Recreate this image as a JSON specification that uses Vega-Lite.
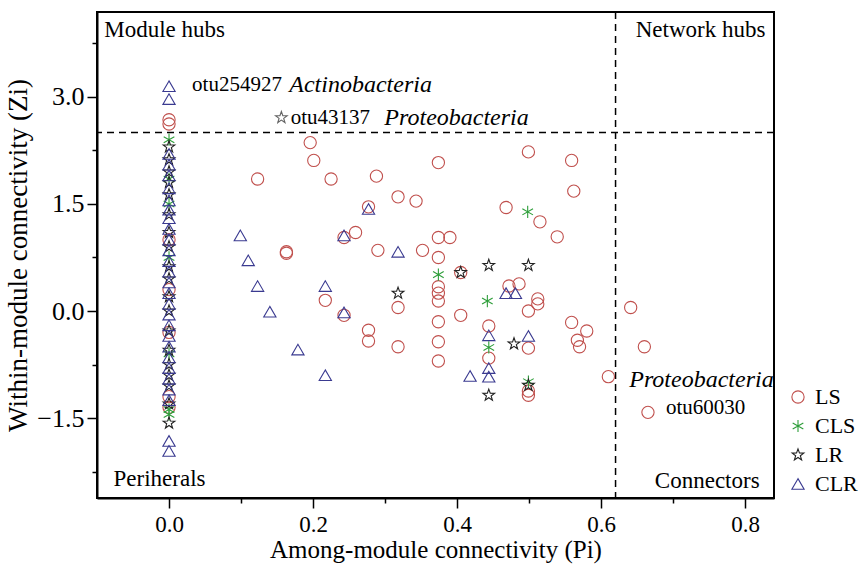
{
  "$schema": "https://vega.github.io/schema/vega-lite/v6.json",
  "width": 677,
  "height": 486,
  "autosize": {"type": "none"},
  "padding": {"left": 97, "top": 12, "right": 86, "bottom": 67},
  "background": "white",
  "config": {
    "font": "Times New Roman, Liberation Serif, serif",
    "view": {"stroke": "black", "strokeWidth": 2},
    "axis": {"grid": false, "domainColor": "black", "domainWidth": 2, "tickColor": "black", "tickWidth": 1.5,
             "labelFont": "Times New Roman, Liberation Serif, serif", "labelColor": "black",
             "titleFont": "Times New Roman, Liberation Serif, serif", "titleFontWeight": "normal", "titleColor": "black"}
  },
  "datasets": {
    "nodes": [
      {"group": "LS", "Pi": 0, "Zi": 2.68}, {"group": "LS", "Pi": 0, "Zi": 2.62}, {"group": "LS", "Pi": 0, "Zi": 1.0},
      {"group": "LS", "Pi": 0, "Zi": 0.3}, {"group": "LS", "Pi": 0, "Zi": -0.3}, {"group": "LS", "Pi": 0, "Zi": -1.2},
      {"group": "LS", "Pi": 0, "Zi": -1.35},
      {"group": "LS", "Pi": 0.196, "Zi": 2.36}, {"group": "LS", "Pi": 0.201, "Zi": 2.11}, {"group": "LS", "Pi": 0.123, "Zi": 1.85},
      {"group": "LS", "Pi": 0.225, "Zi": 1.85}, {"group": "LS", "Pi": 0.288, "Zi": 1.89}, {"group": "LS", "Pi": 0.318, "Zi": 1.6},
      {"group": "LS", "Pi": 0.343, "Zi": 1.54}, {"group": "LS", "Pi": 0.277, "Zi": 1.46}, {"group": "LS", "Pi": 0.243, "Zi": 1.03},
      {"group": "LS", "Pi": 0.259, "Zi": 1.1}, {"group": "LS", "Pi": 0.163, "Zi": 0.83}, {"group": "LS", "Pi": 0.163, "Zi": 0.81},
      {"group": "LS", "Pi": 0.29, "Zi": 0.85}, {"group": "LS", "Pi": 0.352, "Zi": 0.85}, {"group": "LS", "Pi": 0.217, "Zi": 0.15},
      {"group": "LS", "Pi": 0.318, "Zi": 0.05}, {"group": "LS", "Pi": 0.243, "Zi": -0.06}, {"group": "LS", "Pi": 0.277, "Zi": -0.27},
      {"group": "LS", "Pi": 0.277, "Zi": -0.42}, {"group": "LS", "Pi": 0.318, "Zi": -0.5},
      {"group": "LS", "Pi": 0.374, "Zi": 2.08}, {"group": "LS", "Pi": 0.499, "Zi": 2.23}, {"group": "LS", "Pi": 0.559, "Zi": 2.11},
      {"group": "LS", "Pi": 0.562, "Zi": 1.68}, {"group": "LS", "Pi": 0.468, "Zi": 1.45}, {"group": "LS", "Pi": 0.515, "Zi": 1.25},
      {"group": "LS", "Pi": 0.539, "Zi": 1.04}, {"group": "LS", "Pi": 0.374, "Zi": 1.03}, {"group": "LS", "Pi": 0.39, "Zi": 1.03},
      {"group": "LS", "Pi": 0.374, "Zi": 0.75}, {"group": "LS", "Pi": 0.405, "Zi": 0.54}, {"group": "LS", "Pi": 0.374, "Zi": 0.34},
      {"group": "LS", "Pi": 0.374, "Zi": 0.25}, {"group": "LS", "Pi": 0.374, "Zi": 0.14}, {"group": "LS", "Pi": 0.472, "Zi": 0.35},
      {"group": "LS", "Pi": 0.486, "Zi": 0.38}, {"group": "LS", "Pi": 0.512, "Zi": 0.17}, {"group": "LS", "Pi": 0.512, "Zi": 0.1},
      {"group": "LS", "Pi": 0.499, "Zi": 0.0}, {"group": "LS", "Pi": 0.405, "Zi": -0.06}, {"group": "LS", "Pi": 0.374, "Zi": -0.15},
      {"group": "LS", "Pi": 0.374, "Zi": -0.43}, {"group": "LS", "Pi": 0.374, "Zi": -0.7}, {"group": "LS", "Pi": 0.444, "Zi": -0.21},
      {"group": "LS", "Pi": 0.444, "Zi": -0.66}, {"group": "LS", "Pi": 0.499, "Zi": -0.52}, {"group": "LS", "Pi": 0.499, "Zi": -1.12},
      {"group": "LS", "Pi": 0.499, "Zi": -1.18}, {"group": "LS", "Pi": 0.559, "Zi": -0.16}, {"group": "LS", "Pi": 0.58, "Zi": -0.28},
      {"group": "LS", "Pi": 0.567, "Zi": -0.41}, {"group": "LS", "Pi": 0.57, "Zi": -0.5}, {"group": "LS", "Pi": 0.61, "Zi": -0.92},
      {"group": "LS", "Pi": 0.641, "Zi": 0.05}, {"group": "LS", "Pi": 0.66, "Zi": -0.5}, {"group": "LS", "Pi": 0.665, "Zi": -1.42},
      {"group": "CLS", "Pi": 0, "Zi": 2.4}, {"group": "CLS", "Pi": 0, "Zi": 1.85}, {"group": "CLS", "Pi": 0, "Zi": 1.5},
      {"group": "CLS", "Pi": 0, "Zi": 0.75}, {"group": "CLS", "Pi": 0, "Zi": -0.6}, {"group": "CLS", "Pi": 0, "Zi": -1.38},
      {"group": "CLS", "Pi": 0, "Zi": -1.45},
      {"group": "CLS", "Pi": 0.498, "Zi": 1.39}, {"group": "CLS", "Pi": 0.374, "Zi": 0.51}, {"group": "CLS", "Pi": 0.442, "Zi": 0.14},
      {"group": "CLS", "Pi": 0.444, "Zi": -0.51}, {"group": "CLS", "Pi": 0.499, "Zi": -0.99},
      {"group": "LR", "Pi": 0, "Zi": 2.3}, {"group": "LR", "Pi": 0, "Zi": 2.12}, {"group": "LR", "Pi": 0, "Zi": 1.95},
      {"group": "LR", "Pi": 0, "Zi": 1.8}, {"group": "LR", "Pi": 0, "Zi": 1.63}, {"group": "LR", "Pi": 0, "Zi": 1.35},
      {"group": "LR", "Pi": 0, "Zi": 1.1}, {"group": "LR", "Pi": 0, "Zi": 0.9}, {"group": "LR", "Pi": 0, "Zi": 0.62},
      {"group": "LR", "Pi": 0, "Zi": 0.45}, {"group": "LR", "Pi": 0, "Zi": 0.2}, {"group": "LR", "Pi": 0, "Zi": 0.0},
      {"group": "LR", "Pi": 0, "Zi": -0.28}, {"group": "LR", "Pi": 0, "Zi": -0.55}, {"group": "LR", "Pi": 0, "Zi": -0.75},
      {"group": "LR", "Pi": 0, "Zi": -0.9}, {"group": "LR", "Pi": 0, "Zi": -1.05}, {"group": "LR", "Pi": 0, "Zi": -1.3},
      {"group": "LR", "Pi": 0, "Zi": -1.57},
      {"group": "LR", "Pi": 0.318, "Zi": 0.25}, {"group": "LR", "Pi": 0.405, "Zi": 0.54}, {"group": "LR", "Pi": 0.444, "Zi": 0.64},
      {"group": "LR", "Pi": 0.499, "Zi": 0.64}, {"group": "LR", "Pi": 0.479, "Zi": -0.46}, {"group": "LR", "Pi": 0.444, "Zi": -1.18},
      {"group": "LR", "Pi": 0.499, "Zi": -1.04},
      {"group": "CLR", "Pi": 0, "Zi": 3.15}, {"group": "CLR", "Pi": 0, "Zi": 2.97}, {"group": "CLR", "Pi": 0, "Zi": 2.2},
      {"group": "CLR", "Pi": 0, "Zi": 2.05}, {"group": "CLR", "Pi": 0, "Zi": 1.9}, {"group": "CLR", "Pi": 0, "Zi": 1.72},
      {"group": "CLR", "Pi": 0, "Zi": 1.55}, {"group": "CLR", "Pi": 0, "Zi": 1.42}, {"group": "CLR", "Pi": 0, "Zi": 1.3},
      {"group": "CLR", "Pi": 0, "Zi": 1.15}, {"group": "CLR", "Pi": 0, "Zi": 1.0}, {"group": "CLR", "Pi": 0, "Zi": 0.85},
      {"group": "CLR", "Pi": 0, "Zi": 0.7}, {"group": "CLR", "Pi": 0, "Zi": 0.55}, {"group": "CLR", "Pi": 0, "Zi": 0.4},
      {"group": "CLR", "Pi": 0, "Zi": 0.25}, {"group": "CLR", "Pi": 0, "Zi": 0.1}, {"group": "CLR", "Pi": 0, "Zi": -0.05},
      {"group": "CLR", "Pi": 0, "Zi": -0.2}, {"group": "CLR", "Pi": 0, "Zi": -0.35}, {"group": "CLR", "Pi": 0, "Zi": -0.5},
      {"group": "CLR", "Pi": 0, "Zi": -0.65}, {"group": "CLR", "Pi": 0, "Zi": -0.8}, {"group": "CLR", "Pi": 0, "Zi": -0.95},
      {"group": "CLR", "Pi": 0, "Zi": -1.1}, {"group": "CLR", "Pi": 0, "Zi": -1.25}, {"group": "CLR", "Pi": 0, "Zi": -1.82},
      {"group": "CLR", "Pi": 0, "Zi": -1.96},
      {"group": "CLR", "Pi": 0.277, "Zi": 1.43}, {"group": "CLR", "Pi": 0.099, "Zi": 1.06}, {"group": "CLR", "Pi": 0.243, "Zi": 1.06},
      {"group": "CLR", "Pi": 0.318, "Zi": 0.83}, {"group": "CLR", "Pi": 0.11, "Zi": 0.71}, {"group": "CLR", "Pi": 0.123, "Zi": 0.35},
      {"group": "CLR", "Pi": 0.217, "Zi": 0.35}, {"group": "CLR", "Pi": 0.14, "Zi": -0.01}, {"group": "CLR", "Pi": 0.243, "Zi": -0.02},
      {"group": "CLR", "Pi": 0.179, "Zi": -0.54}, {"group": "CLR", "Pi": 0.217, "Zi": -0.9}, {"group": "CLR", "Pi": 0.468, "Zi": 0.25},
      {"group": "CLR", "Pi": 0.481, "Zi": 0.25}, {"group": "CLR", "Pi": 0.444, "Zi": -0.34}, {"group": "CLR", "Pi": 0.444, "Zi": -0.8},
      {"group": "CLR", "Pi": 0.444, "Zi": -0.92}, {"group": "CLR", "Pi": 0.418, "Zi": -0.91}, {"group": "CLR", "Pi": 0.499, "Zi": -0.35}
    ],
    "hline": [{"Zi": 2.5}],
    "vline": [{"Pi": 0.62}],
    "quadLeft": [
      {"Pi": -0.09, "Zi": 3.94, "label": "Module hubs"},
      {"Pi": -0.077, "Zi": -2.36, "label": "Periherals"}
    ],
    "quadRight": [
      {"Pi": 0.828, "Zi": 3.94, "label": "Network hubs"},
      {"Pi": 0.82, "Zi": -2.38, "label": "Connectors"}
    ],
    "otuLabels": [
      {"Pi": 0.032, "Zi": 3.17, "label": "otu254927"},
      {"Pi": 0.169, "Zi": 2.71, "label": "otu43137"},
      {"Pi": 0.69, "Zi": -1.36, "label": "otu60030"}
    ],
    "taxonLabels": [
      {"Pi": 0.167, "Zi": 3.17, "label": "Actinobacteria"},
      {"Pi": 0.299, "Zi": 2.71, "label": "Proteobacteria"},
      {"Pi": 0.639, "Zi": -0.97, "label": "Proteobacteria"}
    ],
    "annoStar": [{"Pi": 0.156, "Zi": 2.71}]
  },
  "encoding": {
    "x": {"field": "Pi", "type": "quantitative",
          "scale": {"domain": [-0.1, 0.84], "nice": false, "zero": false},
          "axis": {"title": "Among-module connectivity (Pi)", "values": [0, 0.1, 0.2, 0.3, 0.4, 0.5, 0.6, 0.7, 0.8],
                   "labelExpr": "indexof([0,0.2,0.4,0.6,0.8], datum.value) >= 0 ? format(datum.value, '.1f') : ''",
                   "tickSize": {"condition": {"test": "indexof([0,0.2,0.4,0.6,0.8], datum.value) >= 0", "value": 10}, "value": 5},
                   "labelFontSize": 23, "titleFontSize": 25,
                   "labelPadding": 5, "titlePadding": 1, "labelFlush": false, "labelOverlap": false}},
    "y": {"field": "Zi", "type": "quantitative",
          "scale": {"domain": [-2.62, 4.19], "nice": false, "zero": false},
          "axis": {"title": "Within-module connectivity (Zi)", "values": [-2.25, -1.5, -0.75, 0, 0.75, 1.5, 2.25, 3, 3.75],
                   "labelExpr": "indexof([-1.5,0,1.5,3], datum.value) >= 0 ? format(datum.value, '.1f') : ''",
                   "tickSize": {"condition": {"test": "indexof([-1.5,0,1.5,3], datum.value) >= 0", "value": 10}, "value": 5},
                   "labelFontSize": 26, "titleFontSize": 27,
                   "labelPadding": 3, "titlePadding": 4, "labelFlush": false, "labelOverlap": false}}
  },
  "layer": [
    {"data": {"name": "hline"}, "mark": {"type": "rule", "color": "black", "strokeWidth": 1.5, "strokeDash": [7, 5]},
     "encoding": {"x": null, "y": {"field": "Zi", "type": "quantitative"}}},
    {"data": {"name": "vline"}, "mark": {"type": "rule", "color": "black", "strokeWidth": 1.5, "strokeDash": [7, 5]},
     "encoding": {"y": null, "x": {"field": "Pi", "type": "quantitative"}}},
    {"data": {"name": "nodes"},
     "mark": {"type": "point", "filled": false, "size": 150, "strokeWidth": 1.1, "opacity": 1},
     "encoding": {
       "color": {"field": "group", "type": "nominal",
                 "scale": {"domain": ["LS", "CLS", "LR", "CLR"], "range": ["#c0504d", "#2e9e3a", "#222222", "#3a3a90"]},
                 "legend": {"title": null, "orient": "none", "legendX": 690, "legendY": 374, "labelFont": "Times New Roman, Liberation Serif, serif",
                            "labelFontSize": 22, "labelColor": "black", "symbolSize": 150, "symbolStrokeWidth": 1.1,
                            "rowPadding": 7, "labelOffset": 6, "padding": 0}},
       "shape": {"field": "group", "type": "nominal",
                 "scale": {"domain": ["LS", "CLS", "LR", "CLR"],
                           "range": ["circle", "M0,-1V1M-0.87,-0.5L0.87,0.5M-0.87,0.5L0.87,-0.5",
                                     "M0,-1L0.235,-0.324L0.951,-0.309L0.38,0.124L0.588,0.809L0,0.4L-0.588,0.809L-0.38,0.124L-0.951,-0.309L-0.235,-0.324Z",
                                     "triangle-up"]}}
     }},
    {"data": {"name": "annoStar"},
     "mark": {"type": "point", "filled": false, "size": 150, "strokeWidth": 1.1, "color": "#222222",
              "shape": "M0,-1L0.235,-0.324L0.951,-0.309L0.38,0.124L0.588,0.809L0,0.4L-0.588,0.809L-0.38,0.124L-0.951,-0.309L-0.235,-0.324Z"}},
    {"data": {"name": "quadLeft"},
     "mark": {"type": "text", "align": "left", "baseline": "middle", "font": "Times New Roman, Liberation Serif, serif", "fontSize": 23, "color": "black"},
     "encoding": {"text": {"field": "label"}}},
    {"data": {"name": "quadRight"},
     "mark": {"type": "text", "align": "right", "baseline": "middle", "font": "Times New Roman, Liberation Serif, serif", "fontSize": 23, "color": "black"},
     "encoding": {"text": {"field": "label"}}},
    {"data": {"name": "otuLabels"},
     "mark": {"type": "text", "align": "left", "baseline": "middle", "font": "Times New Roman, Liberation Serif, serif", "fontSize": 21, "color": "black"},
     "encoding": {"text": {"field": "label"}}},
    {"data": {"name": "taxonLabels"},
     "mark": {"type": "text", "align": "left", "baseline": "middle", "font": "Times New Roman, Liberation Serif, serif", "fontStyle": "italic", "fontSize": 24, "color": "black"},
     "encoding": {"text": {"field": "label"}}}
  ]
}
